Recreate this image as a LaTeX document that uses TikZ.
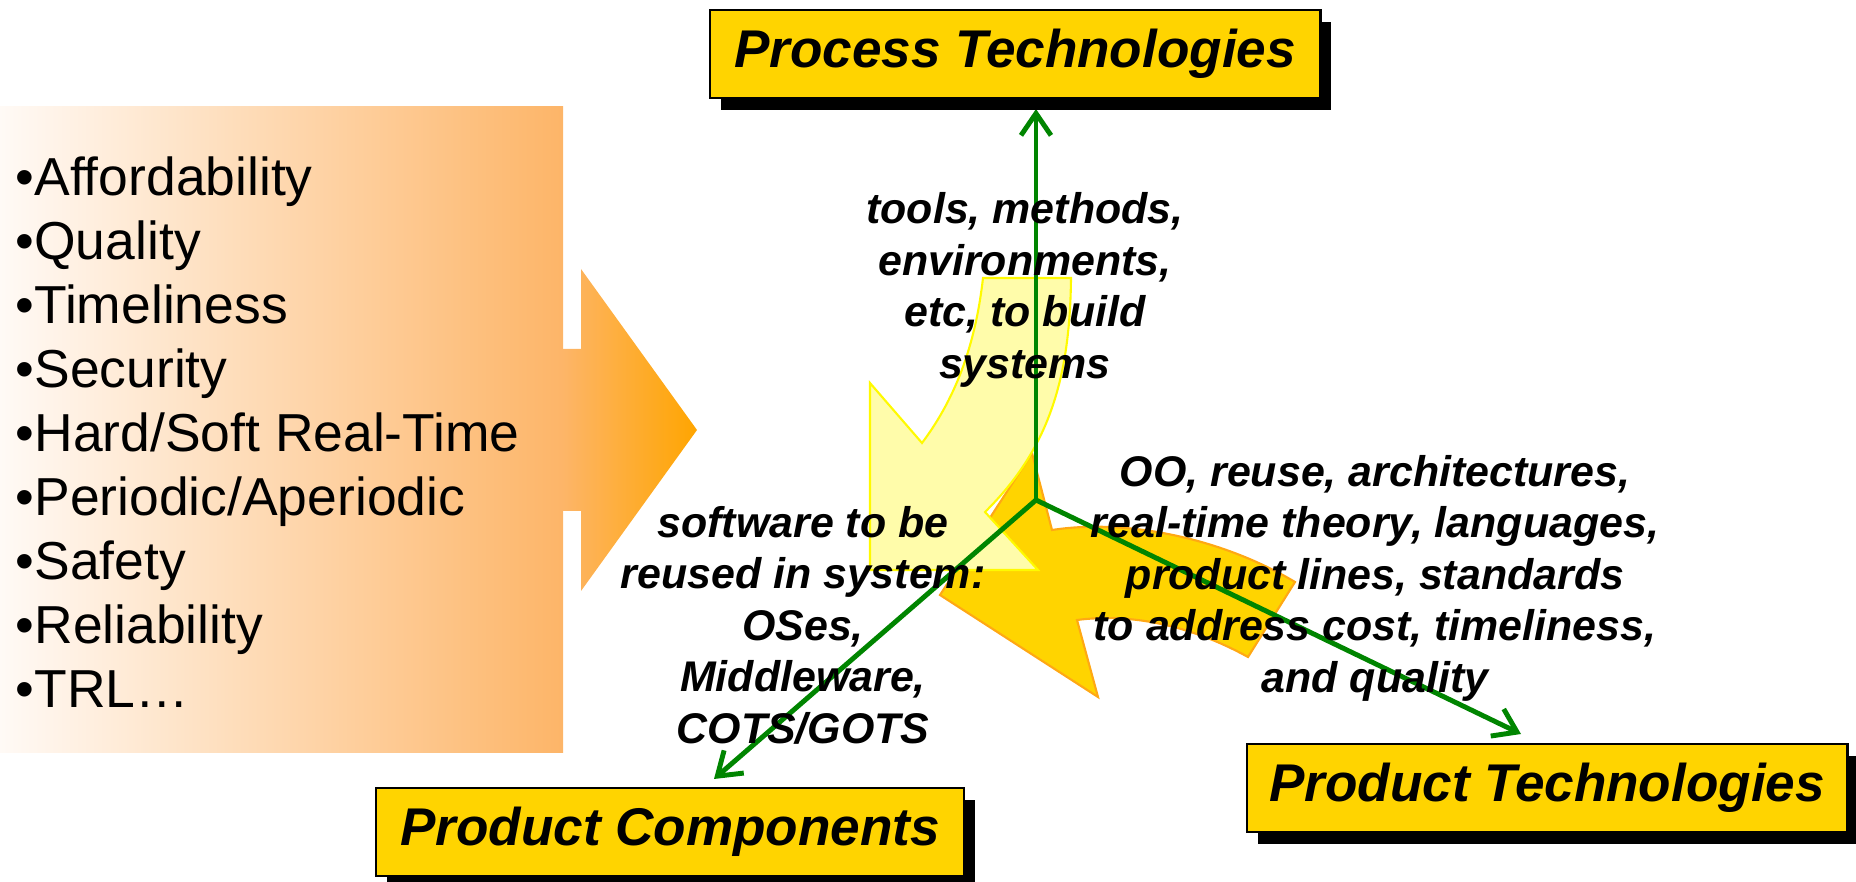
\documentclass[tikz,border=0pt]{standalone}
\usepackage{fontspec}
\setmainfont{Liberation Sans}
\usepackage{xcolor}
\usetikzlibrary{calc, positioning, arrows.meta, shadows}

\definecolor{boxgold}{RGB}{255,212,0}
\definecolor{axisgreen}{RGB}{0,133,0}
\definecolor{paleyel}{RGB}{255,252,170}
\definecolor{brightyel}{RGB}{255,250,0}
\definecolor{goldline}{RGB}{255,168,20}
\definecolor{fadeL}{RGB}{255,250,246}
\definecolor{fadeM}{RGB}{253,181,104}
\definecolor{fadeR}{RGB}{255,165,0}

\tikzset{
  techbox/.style={draw=black, line width=0.75pt, fill=boxgold, inner sep=0pt,
    minimum height=0.88cm, font=\fontsize{15.1pt}{18pt}\selectfont\bfseries\itshape,
    drop shadow={shadow xshift=0.11cm, shadow yshift=-0.12cm, fill=black, opacity=1}},
  lbl/.style={align=center, inner sep=0pt, font=\fontsize{12.2pt}{14.65pt}\selectfont\bfseries\itshape},
  axis/.style={draw=axisgreen, line width=1.4pt, -{Straight Barb[length=0.22cm, width=0.3cm]}}
}

\begin{document}
\begin{tikzpicture}[x=0.01cm, y=-0.01cm]
		\useasboundingbox (0,0) rectangle (1856,882);

		% big faded arrow on the left
		\shade[left color=fadeL, right color=fadeM] (0,107) rectangle (563,753);
		\shade[left color=fadeM, right color=fadeR]
		(563,349) -- (581,349) -- (581,269) -- (697,430) -- (581,591) -- (581,511) -- (563,511) -- cycle;

		\node[anchor=north west, inner sep=0pt, align=left, font=\fontsize{15.2pt}{18.2pt}\selectfont] (needs) at (15,156)
		{•Affordability\\•Quality\\•Timeliness\\•Security\\•Hard/Soft Real-Time\\•Periodic/Aperiodic\\•Safety\\•Reliability\\•TRL…};

		% curved arrows
		\filldraw[fill=boxgold, draw=goldline, line width=0.6pt]
		(940,595) -- (1032,453) -- (1052,530) .. controls (1130,518) and (1225,540) .. (1295,582)
		-- (1248,657) .. controls (1190,625) and (1130,613) .. (1077,620) -- (1098,697) -- cycle;

		\filldraw[fill=paleyel, draw=brightyel, line width=0.6pt]
		(870,570) -- (870,383) -- (922,443) .. controls (958,395) and (976,340) .. (983,278)
		-- (1071,278) .. controls (1070,380) and (1048,450) .. (985,512) -- (1038,570) -- cycle;

		% axes
		\coordinate (hub) at (1036,500);
		\coordinate (procTip) at (1036,109);
		\coordinate (compTip) at (714,779);
		\coordinate (techTip) at (1521,734);

		\draw[axis] (hub) -- (procTip);
		\draw[axis] (hub) -- (compTip);
		\draw[axis] (hub) -- (techTip);

		\node[lbl] (toolsLbl) at (1025,290) {tools, methods,\\environments,\\etc, to build\\systems};
		\node[lbl] (reuseLbl) at (1375,578) {OO, reuse, architectures,\\real-time theory, languages,\\product lines, standards\\to address cost, timeliness,\\and quality};
		\node[lbl] (softLbl) at (803,625) {software to be\\reused in system:\\OSes,\\Middleware,\\COTS/GOTS};

		% boxes
		\node[techbox, minimum width=6.1cm] (proc) at (1015,54) {Process Technologies};
		\node[techbox, minimum width=5.88cm] (comp) at (670,832) {Product Components};
		\node[techbox, minimum width=6.0cm] (tech) at (1547,788) {Product Technologies};

	\end{tikzpicture}
\end{document}
